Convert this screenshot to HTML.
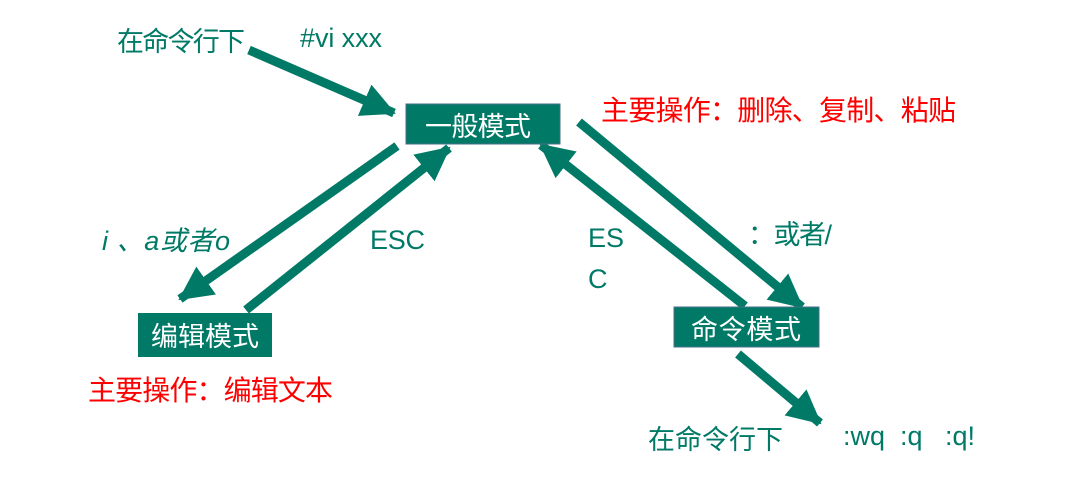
<!DOCTYPE html>
<html><head><meta charset="utf-8"><style>
html,body{margin:0;padding:0;background:#fff;width:1092px;height:486px;overflow:hidden}
svg text{font-family:"Liberation Sans","Noto Sans CJK SC",sans-serif;white-space:pre}
</style></head><body>
<svg width="1092" height="486" viewBox="0 0 1092 486" xmlns="http://www.w3.org/2000/svg">
<defs>
<marker id="h" markerUnits="userSpaceOnUse" markerWidth="36" markerHeight="36" refX="32" refY="17" orient="auto">
<path d="M0,0 L34,17 L0,34 Z" fill="#007a66"/>
</marker>
</defs>
<g stroke="#007a66" stroke-width="9" fill="none" marker-end="url(#h)">
<line x1="249" y1="50" x2="394" y2="113"/>
<line x1="397" y1="146" x2="180" y2="299"/>
<line x1="246" y1="310" x2="449" y2="148"/>
<line x1="745" y1="306" x2="541" y2="145"/>
<line x1="579" y1="122" x2="802" y2="307"/>
<line x1="738" y1="354" x2="820" y2="423"/>
</g>
<rect x="406" y="104" width="154" height="40" fill="#007a66" stroke="#4a6f8a" stroke-width="1"/>
<rect x="138" y="313" width="134" height="44" fill="#007a66"/>
<rect x="674" y="307" width="145" height="40" fill="#007a66" stroke="#4a6f8a" stroke-width="1"/>
<g fill="#fff" font-size="27">
<text x="425" y="136" textLength="106">一般模式</text>
<text x="151" y="346" textLength="108">编辑模式</text>
<text x="691" y="339" textLength="110">命令模式</text>
</g>
<g fill="#007a66" font-size="27">
<text x="117" y="51" textLength="128">在命令行下</text>
<text x="300" y="47" textLength="82">#vi xxx</text>
<text x="102" y="250" font-style="italic" textLength="128">i 、a或者o</text>
<text x="370" y="249" textLength="55">ESC</text>
<text x="588" y="247" textLength="36">ES</text>
<text x="588" y="288">C</text>
<text x="748" y="244" textLength="84">：或者/</text>
<text x="648" y="449" textLength="135">在命令行下</text>
<text x="843" y="445" textLength="132">:wq  :q   :q!</text>
</g>
<g fill="#ff0000" font-size="28">
<text x="601" y="120" textLength="355">主要操作：删除、复制、粘贴</text>
<text x="88" y="400" textLength="245">主要操作：编辑文本</text>
</g>
</svg>
</body></html>
